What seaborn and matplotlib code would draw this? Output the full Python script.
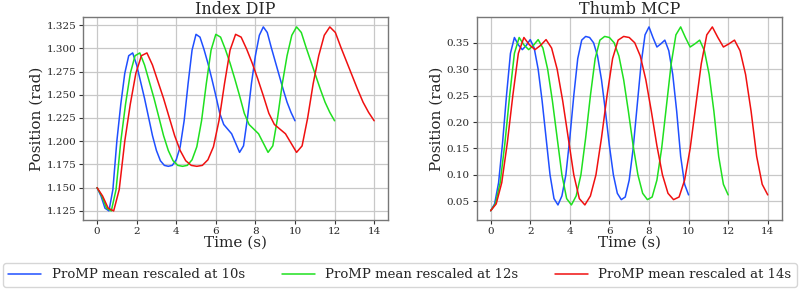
import numpy as np
import pandas as pd
import matplotlib
matplotlib.use("Agg")
import matplotlib.pyplot as plt
import seaborn as sns

# Base (10 s) time grid and read-off mean trajectories
t_base = [round(0.2 * i, 1) for i in range(51)]
durations = [10, 12, 14]
labels = ["ProMP mean rescaled at 10s", "ProMP mean rescaled at 12s", "ProMP mean rescaled at 14s"]
colors = ["#1f4fff", "#1fe01f", "#f01010"]

index_dip = [1.150, 1.141, 1.128, 1.125, 1.148, 1.200, 1.240, 1.273, 1.292, 1.295,
             1.282, 1.264, 1.246, 1.226, 1.206, 1.190, 1.179, 1.174, 1.173, 1.174,
             1.180, 1.194, 1.222, 1.262, 1.298, 1.315, 1.312, 1.299, 1.284, 1.267,
             1.249, 1.230, 1.218, 1.213, 1.208, 1.198, 1.188, 1.195, 1.225, 1.262,
             1.292, 1.314, 1.323, 1.317, 1.301, 1.286, 1.271, 1.256, 1.242, 1.231,
             1.222]

thumb_mcp = [0.032, 0.045, 0.085, 0.160, 0.250, 0.330, 0.360, 0.346, 0.337, 0.345,
             0.356, 0.340, 0.300, 0.240, 0.170, 0.100, 0.055, 0.043, 0.060, 0.100,
             0.170, 0.250, 0.320, 0.355, 0.362, 0.360, 0.350, 0.325, 0.280, 0.220,
             0.155, 0.100, 0.065, 0.053, 0.058, 0.090, 0.150, 0.230, 0.310, 0.365,
             0.380, 0.360, 0.342, 0.348, 0.355, 0.335, 0.290, 0.220, 0.135, 0.082,
             0.062]

sns.set_theme(style="whitegrid")
plt.rcParams["font.family"] = ["DejaVu Serif"]

fig = plt.figure(figsize=(8, 2.89), dpi=100)
ax1 = fig.add_axes([0.104, 0.239, 0.381, 0.702])
ax2 = fig.add_axes([0.596, 0.239, 0.381, 0.702])

def build(values):
    rows = []
    for d, lab in zip(durations, labels):
        for t, v in zip(t_base, values):
            rows.append({"t": t * d / 10.0, "v": v, "series": lab})
    return pd.DataFrame(rows)

for ax, vals, title, yt, fmt in [
    (ax1, index_dip, "Index DIP", np.arange(1.125, 1.3251, 0.025), "{:.3f}"),
    (ax2, thumb_mcp, "Thumb MCP", np.arange(0.05, 0.3501, 0.05), "{:.2f}"),
]:
    df = build(vals)
    sns.lineplot(data=df, x="t", y="v", hue="series", hue_order=labels,
                 palette=colors, ax=ax, linewidth=1.1, legend=False,
                 sort=False, estimator=None)
    ax.set_title(title, fontsize=11.5, pad=2)
    ax.set_xlabel("Time (s)", fontsize=11, labelpad=0)
    ax.set_ylabel("Position (rad)", fontsize=11, labelpad=2)
    ax.set_xticks(range(0, 15, 2))
    ax.set_yticks(yt)
    ax.set_yticklabels([fmt.format(y) for y in yt])
    ax.tick_params(labelsize=7.5, length=3, width=0.8, color="#333333", pad=2,
                   bottom=True, left=True)
    ax.set_xlim(-0.7, 14.7)
    ax.grid(True, color="#c8c8c8", linewidth=0.9)
    for s in ax.spines.values():
        s.set_color("#777777")
        s.set_linewidth(1.0)

ax1.set_ylim(1.1153, 1.3336)
ax2.set_ylim(0.0146, 0.3987)

handles = [plt.Line2D([], [], color=c, linewidth=1.1) for c in colors]
fig.legend(handles, labels, loc="lower left", ncol=3,
           bbox_to_anchor=(0.004, 0.008, 0.992, 0.08),
           fontsize=9.5, frameon=True, mode="expand", borderaxespad=0.0,
           handlelength=2.5, columnspacing=2.0)

fig.savefig("out.png", dpi=100)
